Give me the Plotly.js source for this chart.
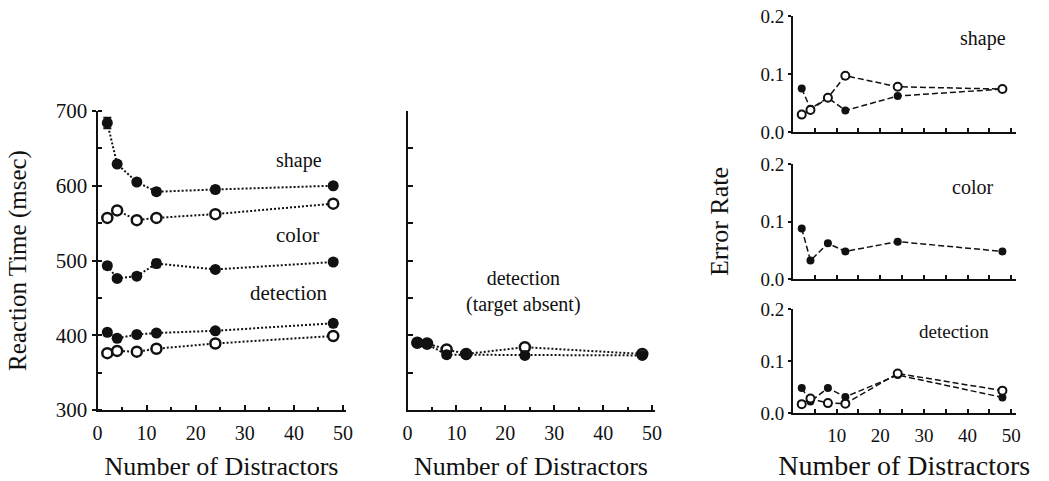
<!DOCTYPE html>
<html>
<head>
<meta charset="utf-8">
<script src="https://cdn.plot.ly/plotly-3.0.1.min.js"></script>
<style>html,body{margin:0;padding:0;background:#fff;}#chart{width:1049px;height:481px;}</style>
</head>
<body>
<div id="chart"></div>
<script>
// ---- data ----
var distractors = [2, 4, 8, 12, 24, 48];

// Reaction time (msec), left panel
var rtShapeFilled = [684, 629, 605, 592, 595, 600];
var rtShapeFilledErr = [7, 4, 3, 4, 4, 3];
var rtShapeOpen = [557, 567, 554, 557, 562, 576];
var rtColorFilled = [493, 476, 479, 496, 488, 498];
var rtColorFilledErr = [4, 3, 4, 5, 3, 4];
var rtDetFilled = [404, 396, 401, 403, 406, 416];
var rtDetFilledErr = [3, 3, 3, 3, 3, 4];
var rtDetOpen = [376, 379, 378, 382, 389, 399];

// Reaction time, middle panel (detection, target absent)
var rtAbsentFilled = [390, 388, 374, 374, 373, 373];
var rtAbsentFilledErr = [4, 4, 4, 3, 3, 3];
var rtAbsentOpen = [390, 389, 381, 375, 384, 375];

// Error rates, right panels
var erShapeFilled = [0.075, 0.040, 0.059, 0.037, 0.062, 0.074];
var erShapeOpen = [0.030, 0.038, 0.059, 0.097, 0.078, 0.074];
var erColorFilled = [0.088, 0.032, 0.062, 0.048, 0.065, 0.048];
var erDetFilled = [0.048, 0.022, 0.048, 0.031, 0.073, 0.030];
var erDetOpen = [0.017, 0.028, 0.019, 0.018, 0.076, 0.043];

// labels
var xTitle = 'Number of Distractors';
var rtTitle = 'Reaction Time (msec)';
var erTitle = 'Error Rate';

// ---- styling ----
var FONT = 'Liberation Serif, Times New Roman, serif';
var W = 1049, H = 481;
function px(x) { return x / W; }
function py(y) { return 1 - y / H; }

var dotLine = {color: '#111', width: 2, dash: '2px,2px'};
var dashLine = {color: '#111', width: 1.5, dash: '6px,3px'};

function filledTrace(x, y, err, xa, ya, big) {
  var t = {
    x: x, y: y, xaxis: xa, yaxis: ya, type: 'scatter', mode: 'lines+markers',
    line: big ? dotLine : dashLine,
    marker: {symbol: 'circle', size: big ? 11 : 8, color: '#111'},
    showlegend: false, hoverinfo: 'x+y'
  };
  if (err) t.error_y = {type: 'data', array: err, visible: true, color: '#111', thickness: 2, width: 4};
  return t;
}
function openTrace(x, y, xa, ya, big) {
  return {
    x: x, y: y, xaxis: xa, yaxis: ya, type: 'scatter', mode: 'lines+markers',
    line: big ? dotLine : dashLine,
    marker: {symbol: 'circle', size: big ? 10 : 8, color: '#fff', line: {color: '#111', width: big ? 2.5 : 2}},
    showlegend: false, hoverinfo: 'x+y'
  };
}

var data = [
  filledTrace(distractors, rtShapeFilled, rtShapeFilledErr, 'x', 'y', true),
  openTrace(distractors, rtShapeOpen, 'x', 'y', true),
  filledTrace(distractors, rtColorFilled, rtColorFilledErr, 'x', 'y', true),
  openTrace(distractors, rtDetOpen, 'x', 'y', true),
  filledTrace(distractors, rtDetFilled, rtDetFilledErr, 'x', 'y', true),

  openTrace(distractors, rtAbsentOpen, 'x2', 'y2', true),
  filledTrace(distractors, rtAbsentFilled, rtAbsentFilledErr, 'x2', 'y2', true),

  filledTrace(distractors, erShapeFilled, null, 'x3', 'y3', false),
  openTrace(distractors, erShapeOpen, 'x3', 'y3', false),
  filledTrace(distractors, erColorFilled, null, 'x4', 'y4', false),
  filledTrace(distractors, erDetFilled, null, 'x5', 'y5', false),
  openTrace(distractors, erDetOpen, 'x5', 'y5', false)
];

function baseAxis(extra) {
  var a = {
    showline: true, linecolor: '#111', linewidth: 2, showgrid: false, zeroline: false,
    ticks: 'inside', tickcolor: '#111', tickwidth: 2, ticklen: 5,
    tickfont: {family: FONT, size: 20, color: '#111'},
    fixedrange: true
  };
  for (var k in extra) a[k] = extra[k];
  return a;
}

var leftY = {domain: [py(410), py(111)], range: [300, 700]};
var rightX = {range: [0, 51], domain: [px(793), px(1015.5)]};

var layout = {
  width: W, height: H,
  margin: {l: 0, r: 0, t: 0, b: 0},
  paper_bgcolor: '#fff', plot_bgcolor: 'rgba(0,0,0,0)',
  font: {family: FONT, color: '#111'},
  showlegend: false,
  xaxis: baseAxis({anchor: 'y', domain: [px(97.5), px(345.5)], range: [0, 50.5],
    tickmode: 'linear', tick0: 0, dtick: 10, ticklabelstandoff: 4,
    minor: {dtick: 5, tick0: 0, ticks: 'inside', ticklen: 3, tickcolor: '#111', tickwidth: 2},
    title: {text: xTitle, font: {family: FONT, size: 26, color: '#111'}, standoff: 14}}),
  yaxis: baseAxis({anchor: 'x', domain: leftY.domain, range: leftY.range,
    tickmode: 'linear', tick0: 300, dtick: 100, ticks: 'outside', ticklen: 4,
    tickfont: {family: FONT, size: 21, color: '#111'},
    minor: {dtick: 50, tick0: 300, ticks: 'inside', ticklen: 4, tickcolor: '#111', tickwidth: 2},
    title: {text: rtTitle, font: {family: FONT, size: 25, color: '#111'}, standoff: 22}}),

  xaxis2: baseAxis({anchor: 'y2', domain: [px(407.5), px(654.5)], range: [0, 50.5],
    tickmode: 'linear', tick0: 0, dtick: 10, ticklabelstandoff: 4,
    minor: {dtick: 5, tick0: 0, ticks: 'inside', ticklen: 3, tickcolor: '#111', tickwidth: 2},
    title: {text: xTitle, font: {family: FONT, size: 26, color: '#111'}, standoff: 14}}),
  yaxis2: baseAxis({anchor: 'x2', domain: leftY.domain, range: leftY.range,
    tickmode: 'linear', tick0: 300, dtick: 50, showticklabels: false, ticklen: 5}),

  xaxis3: baseAxis({anchor: 'y3', domain: rightX.domain, range: rightX.range,
    tickmode: 'linear', tick0: 0, dtick: 5, showticklabels: false, ticklen: 4}),
  yaxis3: baseAxis({anchor: 'x3', domain: [py(132), py(16)], range: [0, 0.2],
    tickmode: 'linear', tick0: 0, dtick: 0.1, tickformat: '.1f', ticks: 'outside', ticklen: 3,
    tickfont: {family: FONT, size: 19, color: '#111'}}),

  xaxis4: baseAxis({anchor: 'y4', domain: rightX.domain, range: rightX.range,
    tickmode: 'linear', tick0: 0, dtick: 5, showticklabels: false, ticklen: 4}),
  yaxis4: baseAxis({anchor: 'x4', domain: [py(279), py(164)], range: [0, 0.2],
    tickmode: 'linear', tick0: 0, dtick: 0.1, tickformat: '.1f', ticks: 'outside', ticklen: 3,
    tickfont: {family: FONT, size: 19, color: '#111'},
    title: {text: erTitle, font: {family: FONT, size: 26, color: '#111'}, standoff: 24}}),

  xaxis5: baseAxis({anchor: 'y5', domain: rightX.domain, range: rightX.range,
    tickmode: 'array', tickvals: [10, 20, 30, 40, 50], ticklen: 4, ticklabelstandoff: 4,
    tickfont: {family: FONT, size: 19, color: '#111'},
    minor: {dtick: 5, tick0: 0, ticks: 'inside', ticklen: 4, tickcolor: '#111', tickwidth: 2},
    title: {text: xTitle, font: {family: FONT, size: 28, color: '#111'}, standoff: 16}}),
  yaxis5: baseAxis({anchor: 'x5', domain: [py(413), py(309)], range: [0, 0.2],
    tickmode: 'linear', tick0: 0, dtick: 0.1, tickformat: '.1f', ticks: 'outside', ticklen: 3,
    tickfont: {family: FONT, size: 19, color: '#111'}}),

  annotations: [
    {xref: 'x', yref: 'y', x: 41, y: 634, text: 'shape', showarrow: false, font: {family: FONT, size: 20, color: '#111'}},
    {xref: 'x', yref: 'y', x: 40.7, y: 534, text: 'color', showarrow: false, font: {family: FONT, size: 21, color: '#111'}},
    {xref: 'x', yref: 'y', x: 38.8, y: 456, text: 'detection', showarrow: false, font: {family: FONT, size: 21, color: '#111'}},
    {xref: 'x2', yref: 'y2', x: 23.8, y: 459, text: 'detection<br>(target absent)', showarrow: false, font: {family: FONT, size: 20, color: '#111'}},
    {xref: 'x3', yref: 'y3', x: 43.5, y: 0.161, text: 'shape', showarrow: false, font: {family: FONT, size: 20, color: '#111'}},
    {xref: 'x4', yref: 'y4', x: 41.2, y: 0.160, text: 'color', showarrow: false, font: {family: FONT, size: 20, color: '#111'}},
    {xref: 'x5', yref: 'y5', x: 36.8, y: 0.156, text: 'detection', showarrow: false, font: {family: FONT, size: 19, color: '#111'}}
  ]
};

Plotly.newPlot('chart', data, layout, {displayModeBar: false, staticPlot: true});
</script>
</body>
</html>
